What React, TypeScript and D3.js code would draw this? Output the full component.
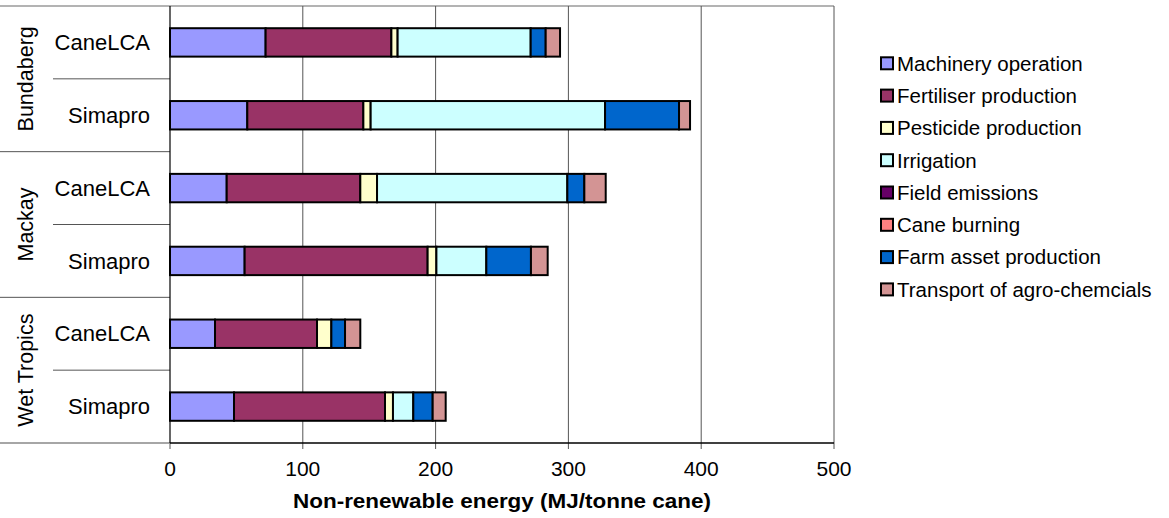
import React from "react";
import * as d3 from "d3";

// Rows of the chart (top to bottom) and the region each belongs to
const regions = ["Bundaberg", "Mackay", "Wet Tropics"];
const rowRegion = ["Bundaberg", "Bundaberg", "Mackay", "Mackay", "Wet Tropics", "Wet Tropics"];
const rowModel = ["CaneLCA", "Simapro", "CaneLCA", "Simapro", "CaneLCA", "Simapro"];

// Energy contributors (MJ / tonne cane), one array per contributor, in row order
const seriesNames = [
  "Machinery operation",
  "Fertiliser production",
  "Pesticide production",
  "Irrigation",
  "Field emissions",
  "Cane burning",
  "Farm asset production",
  "Transport of agro-chemcials",
];
const machinery = [72.0, 58.2, 42.7, 56.2, 33.9, 48.2];
const fertiliser = [94.7, 87.4, 100.6, 137.8, 76.8, 113.7];
const pesticide = [4.7, 5.5, 12.6, 6.6, 10.8, 6.0];
const irrigation = [100.2, 176.5, 143.3, 37.6, 0, 15.3];
const fieldEmissions = [0, 0, 0, 0, 0, 0];
const caneBurning = [0, 0, 0, 0, 0, 0];
const farmAsset = [11.3, 55.7, 12.8, 33.6, 10.3, 14.6];
const transport = [10.8, 8.3, 16.1, 12.6, 11.5, 9.8];

const seriesColors = [
  "#9999FF",
  "#993366",
  "#FFFFCC",
  "#CCFFFF",
  "#660066",
  "#FF8080",
  "#0066CC",
  "#D39494",
];

const xTicks = [0, 100, 200, 300, 400, 500];
const xTitle = "Non-renewable energy (MJ/tonne cane)";

const W = 1169;
const H = 518;
const plot = { left: 170, right: 834, top: 6, bottom: 443 };
const FONT = "'Liberation Sans', Arial, Helvetica, sans-serif";

export default function App() {
  const seriesValues = [
    machinery,
    fertiliser,
    pesticide,
    irrigation,
    fieldEmissions,
    caneBurning,
    farmAsset,
    transport,
  ];
  const rowIds = rowRegion.map((r, i) => `${r}|${rowModel[i]}`);
  const table = rowIds.map((id, i) => {
    const o: Record<string, number | string> = { id };
    seriesNames.forEach((s, k) => (o[s] = seriesValues[k][i]));
    return o;
  });
  const stacked = d3.stack<any>().keys(seriesNames)(table);

  const x = d3.scaleLinear().domain([0, 500]).range([plot.left, plot.right]);
  const y = d3
    .scaleBand<string>()
    .domain(rowIds)
    .range([plot.top, plot.bottom])
    .paddingInner(0.61)
    .paddingOuter(0.305);
  const step = y.step();

  const groupScale = d3
    .scaleBand<string>()
    .domain(regions)
    .range([plot.top, plot.bottom]);

  return (
    <svg width={W} height={H} style={{ display: "block", position: "absolute", left: 0, top: 0 }}>
      <rect x={0} y={0} width={W} height={H} fill="#fff" />

      {/* top border */}
      <line x1={0} x2={plot.right} y1={plot.top} y2={plot.top} stroke="#9a9a9a" strokeWidth={1.5} />

      {/* vertical gridlines with small ticks below the axis */}
      {xTicks.map((t) => (
        <line
          key={`g${t}`}
          x1={x(t)}
          x2={x(t)}
          y1={t === 0 ? plot.bottom : plot.top}
          y2={plot.bottom + 6}
          stroke="#555"
          strokeWidth={1}
        />
      ))}

      {/* left-hand dividers between rows and regions */}
      {rowIds.map((id, i) => {
        if (i === 0) return null;
        const yy = plot.top + i * step;
        const isGroup = i % 2 === 0;
        return (
          <line
            key={`d${id}`}
            x1={isGroup ? 0 : 53}
            x2={plot.left}
            y1={yy}
            y2={yy}
            stroke="#555"
            strokeWidth={1}
          />
        );
      })}
      <line x1={0} x2={plot.left} y1={plot.bottom} y2={plot.bottom} stroke="#888" strokeWidth={1.5} />

      {/* bars */}
      {stacked.map((layer, k) =>
        layer.map((d, i) => {
          const w = x(d[1]) - x(d[0]);
          if (w <= 0) return null;
          return (
            <rect
              key={`${k}-${i}`}
              x={x(d[0])}
              y={y(rowIds[i])}
              width={w}
              height={y.bandwidth()}
              fill={seriesColors[k]}
              stroke="#000"
              strokeWidth={2}
            />
          );
        })
      )}

      {/* axes */}
      <line x1={plot.left} x2={plot.left} y1={plot.top} y2={plot.bottom} stroke="#000" strokeWidth={1.2} />
      <line x1={plot.left} x2={plot.right} y1={plot.bottom} y2={plot.bottom} stroke="#000" strokeWidth={1.5} />

      {/* x tick labels */}
      {xTicks.map((t) => (
        <text
          key={`t${t}`}
          x={x(t)}
          y={476}
          textAnchor="middle"
          fontFamily={FONT}
          fontSize={21}
          fill="#000"
        >
          {t}
        </text>
      ))}

      {/* x axis title */}
      <text
        x={(plot.left + plot.right) / 2}
        y={508}
        textAnchor="middle"
        fontFamily={FONT}
        fontSize={21}
        fontWeight="bold"
        fill="#000"
        textLength={418}
        lengthAdjust="spacingAndGlyphs"
      >
        {xTitle}
      </text>

      {/* row labels */}
      {rowIds.map((id, i) => (
        <text
          key={`r${id}`}
          x={150}
          y={(y(id) ?? 0) + y.bandwidth() / 2}
          dy="0.35em"
          textAnchor="end"
          fontFamily={FONT}
          fontSize={22}
          fill="#000"
        >
          {rowModel[i]}
        </text>
      ))}

      {/* region labels */}
      {regions.map((r) => {
        const cy = (groupScale(r) ?? 0) + groupScale.bandwidth() / 2;
        return (
          <text
            key={`g${r}`}
            transform={`translate(33,${cy}) rotate(-90)`}
            textAnchor="middle"
            fontFamily={FONT}
            fontSize={21.5}
            fill="#000"
          >
            {r}
          </text>
        );
      })}

      {/* legend */}
      {seriesNames.map((s, k) => {
        const cy = 63.3 + k * 32.3;
        return (
          <g key={`l${s}`}>
            <rect
              x={881}
              y={cy - 6}
              width={12}
              height={12}
              fill={seriesColors[k]}
              stroke="#000"
              strokeWidth={2}
            />
            <text
              x={897}
              y={cy}
              dy="0.36em"
              fontFamily={FONT}
              fontSize={20.5}
              fill="#000"
            >
              {s}
            </text>
          </g>
        );
      })}
    </svg>
  );
}
